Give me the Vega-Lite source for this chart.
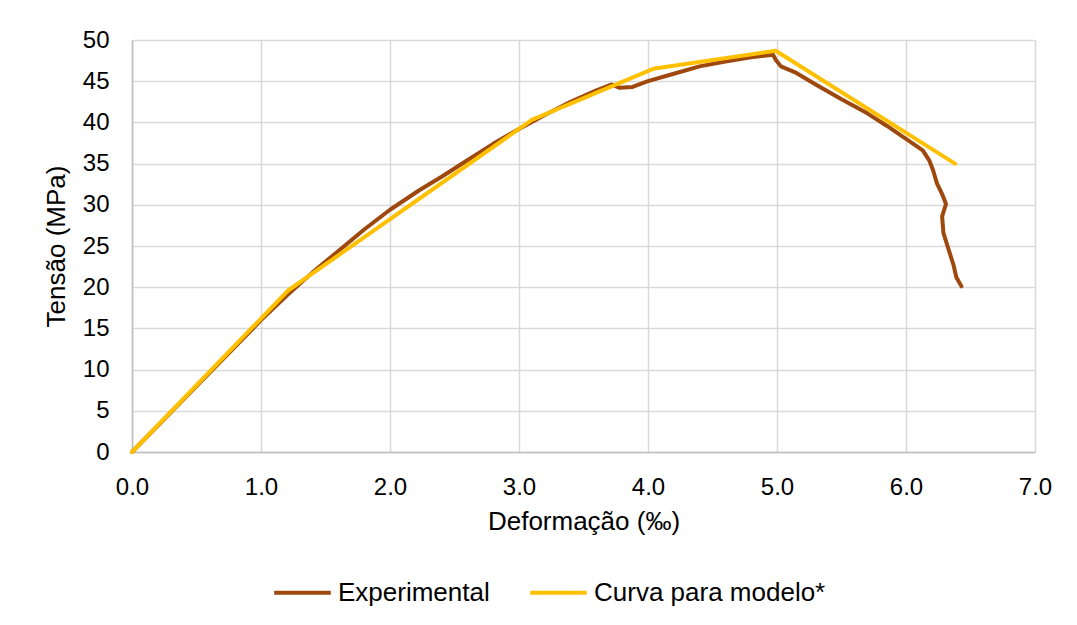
{
  "$schema": "https://vega.github.io/schema/vega-lite/v6.json",
  "width": 903,
  "height": 412,
  "autosize": {"type": "none"},
  "padding": {"left": 132, "top": 40, "right": 42, "bottom": 173},
  "background": "white",
  "config": {
    "font": "Liberation Sans",
    "view": {"stroke": null},
    "axis": {
      "gridColor": "#d9d9d9",
      "gridWidth": 1.5,
      "domainColor": "#bfbfbf",
      "domainWidth": 1.5,
      "ticks": false,
      "labelFontSize": 24,
      "labelColor": "#000000",
      "titleFontSize": 26,
      "titleFontWeight": "normal",
      "titleColor": "#000000",
      "labelFont": "Liberation Sans",
      "titleFont": "Liberation Sans",
      "labelFlush": false,
      "labelOverlap": false
    },
    "legend": {"labelFontSize": 26, "labelColor": "#000000", "labelFont": "Liberation Sans", "labelLimit": 400}
  },
  "data": {
    "values": [
      {"s": "Experimental", "i": 0, "x": 0.0, "y": 0.0},
      {"s": "Experimental", "i": 1, "x": 0.5, "y": 8.0},
      {"s": "Experimental", "i": 2, "x": 1.0, "y": 16.0},
      {"s": "Experimental", "i": 3, "x": 1.2, "y": 19.0},
      {"s": "Experimental", "i": 4, "x": 1.4, "y": 21.8},
      {"s": "Experimental", "i": 5, "x": 1.6, "y": 24.4},
      {"s": "Experimental", "i": 6, "x": 1.8, "y": 27.0},
      {"s": "Experimental", "i": 7, "x": 2.0, "y": 29.4},
      {"s": "Experimental", "i": 8, "x": 2.23, "y": 31.8},
      {"s": "Experimental", "i": 9, "x": 2.4, "y": 33.4},
      {"s": "Experimental", "i": 10, "x": 2.6, "y": 35.4},
      {"s": "Experimental", "i": 11, "x": 2.8, "y": 37.4},
      {"s": "Experimental", "i": 12, "x": 3.0, "y": 39.2},
      {"s": "Experimental", "i": 13, "x": 3.2, "y": 40.9},
      {"s": "Experimental", "i": 14, "x": 3.4, "y": 42.5},
      {"s": "Experimental", "i": 15, "x": 3.6, "y": 43.9},
      {"s": "Experimental", "i": 16, "x": 3.72, "y": 44.6},
      {"s": "Experimental", "i": 17, "x": 3.78, "y": 44.2},
      {"s": "Experimental", "i": 18, "x": 3.88, "y": 44.3},
      {"s": "Experimental", "i": 19, "x": 4.0, "y": 45.0},
      {"s": "Experimental", "i": 20, "x": 4.2, "y": 45.9},
      {"s": "Experimental", "i": 21, "x": 4.4, "y": 46.8},
      {"s": "Experimental", "i": 22, "x": 4.6, "y": 47.4},
      {"s": "Experimental", "i": 23, "x": 4.8, "y": 47.9},
      {"s": "Experimental", "i": 24, "x": 4.97, "y": 48.2},
      {"s": "Experimental", "i": 25, "x": 4.99, "y": 47.6},
      {"s": "Experimental", "i": 26, "x": 5.03, "y": 46.8},
      {"s": "Experimental", "i": 27, "x": 5.15, "y": 46.0},
      {"s": "Experimental", "i": 28, "x": 5.3, "y": 44.6},
      {"s": "Experimental", "i": 29, "x": 5.5, "y": 42.8},
      {"s": "Experimental", "i": 30, "x": 5.7, "y": 41.1},
      {"s": "Experimental", "i": 31, "x": 5.85, "y": 39.6},
      {"s": "Experimental", "i": 32, "x": 6.0, "y": 38.0},
      {"s": "Experimental", "i": 33, "x": 6.13, "y": 36.6},
      {"s": "Experimental", "i": 34, "x": 6.18, "y": 35.4},
      {"s": "Experimental", "i": 35, "x": 6.21, "y": 34.2},
      {"s": "Experimental", "i": 36, "x": 6.24, "y": 32.6},
      {"s": "Experimental", "i": 37, "x": 6.28, "y": 31.3},
      {"s": "Experimental", "i": 38, "x": 6.31, "y": 30.1},
      {"s": "Experimental", "i": 39, "x": 6.28, "y": 28.6},
      {"s": "Experimental", "i": 40, "x": 6.29, "y": 26.6},
      {"s": "Experimental", "i": 41, "x": 6.33, "y": 24.6},
      {"s": "Experimental", "i": 42, "x": 6.37, "y": 22.6},
      {"s": "Experimental", "i": 43, "x": 6.39, "y": 21.2},
      {"s": "Experimental", "i": 44, "x": 6.43, "y": 20.1},
      {"s": "Curva para modelo*", "i": 0, "x": 0.0, "y": 0.0},
      {"s": "Curva para modelo*", "i": 1, "x": 1.21, "y": 19.6},
      {"s": "Curva para modelo*", "i": 2, "x": 3.1, "y": 40.3},
      {"s": "Curva para modelo*", "i": 3, "x": 4.04, "y": 46.5},
      {"s": "Curva para modelo*", "i": 4, "x": 4.99, "y": 48.7},
      {"s": "Curva para modelo*", "i": 5, "x": 6.38, "y": 35.0}
    ]
  },
  "mark": {"type": "line", "strokeWidth": 4, "strokeCap": "round", "strokeJoin": "round"},
  "encoding": {
    "x": {
      "field": "x", "type": "quantitative",
      "scale": {"domain": [0, 7], "nice": false},
      "axis": {"values": [0, 1, 2, 3, 4, 5, 6, 7], "format": ".1f", "title": "Deformação (‰)", "labelPadding": 23, "titlePadding": 9}
    },
    "y": {
      "field": "y", "type": "quantitative",
      "scale": {"domain": [0, 50], "nice": false},
      "axis": {"values": [0, 5, 10, 15, 20, 25, 30, 35, 40, 45, 50], "title": "Tensão (MPa)", "labelPadding": 23, "titlePadding": 13}
    },
    "color": {
      "field": "s", "type": "nominal",
      "scale": {"domain": ["Experimental", "Curva para modelo*"], "range": ["#9E480E", "#FFC000"]},
      "legend": {
        "title": null, "orient": "none", "direction": "horizontal",
        "legendX": 140, "legendY": 522,
        "symbolType": "stroke", "symbolSize": 3200, "symbolStrokeWidth": 4,
        "columnPadding": 32, "labelOffset": 5
      }
    },
    "order": {"field": "i", "type": "quantitative"}
  }
}
